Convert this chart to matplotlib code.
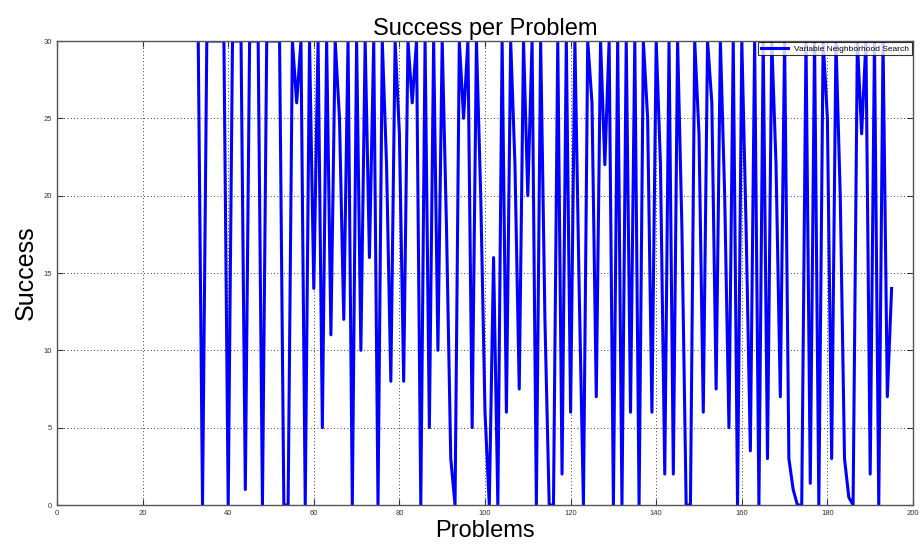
import numpy as np
import matplotlib
matplotlib.use("Agg")
import matplotlib.pyplot as plt

plt.rcParams['font.family'] = ['Liberation Sans', 'DejaVu Sans']

# problem index and success count (out of 30) for each problem
problems = list(range(33, 196))
success = [
    30, 0, 30, 30, 30, 30, 30, 0, 30, 30,      # 33-42
    30, 1, 30, 30, 30, 0, 30, 30, 30, 30,      # 43-52
    0, 0, 30, 26, 30, 0, 30, 14, 30, 5,        # 53-62
    30, 11, 30, 25, 12, 30, 0, 30, 10, 30,     # 63-72
    16, 30, 0, 30, 22, 8, 30, 24, 8, 30,       # 73-82
    26, 30, 0, 30, 5, 30, 10, 30, 18, 3,       # 83-92
    0, 30, 25, 30, 5, 30, 20, 6, 0, 16,        # 93-102
    0, 30, 6, 30, 22, 7.5, 30, 20, 30, 0,      # 103-112
    30, 12, 0, 0, 30, 2, 30, 6, 30, 14,        # 113-122
    0, 30, 26, 7, 30, 22, 30, 0, 30, 0,        # 123-132
    30, 6, 30, 0, 30, 25, 6, 30, 22, 2,        # 133-142
    30, 2, 30, 18, 0, 0, 30, 24, 6, 30,        # 143-152
    26, 7.5, 30, 20, 5, 30, 0, 30, 18, 3.5,    # 153-162
    30, 0, 30, 3, 30, 22, 7, 30, 3, 1,         # 163-172
    0, 0, 30, 1.4, 30, 0, 30, 25, 3, 30,       # 173-182
    20, 3, 0.5, 0, 30, 24, 30, 2, 30, 0,       # 183-192
    30, 7, 14,                                 # 193-195
]

fig = plt.figure(figsize=(9.24, 5.52), dpi=100)
ax = fig.add_axes([57 / 924, 1 - 505 / 552, 856 / 924, 464 / 552])

ax.plot(problems, success, color='#0000ff', lw=2.2, label='Variable Neighborhood Search')

ax.set_xlim(0, 200)
ax.set_ylim(0, 30)
ax.set_xticks(range(0, 201, 20))
ax.set_yticks(range(0, 31, 5))
ax.grid(True, color='black', linestyle=(0, (1, 3)), linewidth=0.6)
ax.tick_params(direction='in', length=4, width=0.8, labelsize=5.5, colors='#333333',
               top=True, right=True)
for s in ax.spines.values():
    s.set_color('#555555')
    s.set_linewidth(1.0)

ax.set_title('Success per Problem', fontsize=17, pad=4)
ax.set_xlabel('Problems', fontsize=17, labelpad=2)
ax.set_ylabel('Success', fontsize=18, labelpad=4)

leg = ax.legend(loc='upper right', fontsize=6, frameon=True, fancybox=False,
                borderpad=0.3, handlelength=3.2, borderaxespad=0.15)
leg.get_frame().set_edgecolor('black')
leg.get_frame().set_linewidth(0.8)

fig.savefig('out.png', dpi=100)
